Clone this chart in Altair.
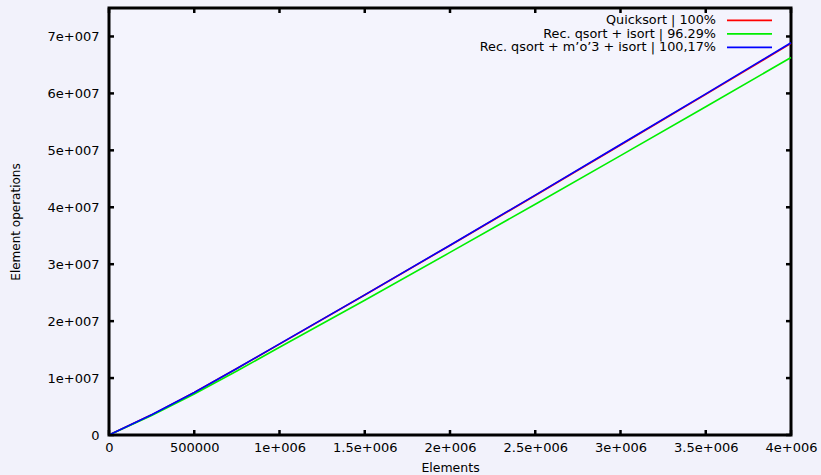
import altair as alt
import pandas as pd

# ---- data ----
x_elements = [0, 250000, 500000, 750000, 1000000, 1500000, 2000000, 2500000, 3000000, 3500000, 4000000]
quicksort = [0, 3.54e6, 7.46e6, 1.167e7, 1.597e7, 2.458e7, 3.329e7, 4.207e7, 5.093e7, 5.982e7, 6.878e7]
rec_isort = [0, 3.42e6, 7.2e6, 1.124e7, 1.54e7, 2.368e7, 3.207e7, 4.053e7, 4.908e7, 5.765e7, 6.63e7]
rec_mo3 = [0, 3.55e6, 7.47e6, 1.169e7, 1.6e7, 2.462e7, 3.334e7, 4.214e7, 5.102e7, 5.992e7, 6.89e7]

series_names = ["Quicksort | 100%", "Rec. qsort + isort | 96.29%", "Rec. qsort + m\u2019o\u20193 + isort | 100,17%"]
series_colors = ["#ff0000", "#00ee00", "#0000ff"]

x_ticks = [0, 500000, 1000000, 1500000, 2000000, 2500000, 3000000, 3500000, 4000000]
x_tick_labels = ["0", "500000", "1e+006", "1.5e+006", "2e+006", "2.5e+006", "3e+006", "3.5e+006", "4e+006"]
y_ticks = [0, 1e7, 2e7, 3e7, 4e7, 5e7, 6e7, 7e7]
y_tick_labels = ["0", "1e+007", "2e+007", "3e+007", "4e+007", "5e+007", "6e+007", "7e+007"]

W, H = 682, 427
FONT = "DejaVu Sans"

xs = alt.Scale(domain=[0, 4000000], nice=False, zero=False)
ys = alt.Scale(domain=[0, 7.5e7], nice=False, zero=False)

def arr(lst):
    return "[" + ",".join("'" + s + "'" for s in lst) + "]"

x_axis = alt.Axis(values=x_ticks, ticks=False, domain=False, grid=False,
                  labelExpr=arr(x_tick_labels) + "[round(datum.value/500000)]",
                  labelFont=FONT, labelFontSize=13, labelColor="black", labelPadding=6,
                  title="Elements", titleFont=FONT, titleFontSize=12.5, titleFontWeight="normal",
                  titleColor="black", titlePadding=7, labelFlush=False)
y_axis = alt.Axis(values=y_ticks, ticks=False, domain=False, grid=False,
                  labelExpr=arr(y_tick_labels) + "[round(datum.value/1e7)]",
                  labelFont=FONT, labelFontSize=13, labelColor="black", labelPadding=10,
                  title="Element operations", titleFont=FONT, titleFontSize=12, titleFontWeight="normal",
                  titleColor="black", titlePadding=25, labelFlush=False)

layers = []
for i, (name, vals) in enumerate(zip(series_names, [quicksort, rec_isort, rec_mo3])):
    df = pd.DataFrame({"x": x_elements, "y": vals})
    layers.append(alt.Chart(df).mark_line(color=series_colors[i], strokeWidth=1.6).encode(
        x=alt.X("x:Q", scale=xs, axis=x_axis),
        y=alt.Y("y:Q", scale=ys, axis=y_axis),
    ))

# inward ticks on all four sides
xt = pd.DataFrame({"x": x_ticks})
yt = pd.DataFrame({"y": y_ticks})
tick_style = dict(color="black", strokeWidth=2.5)
layers.append(alt.Chart(xt).mark_rule(**tick_style).encode(
    x=alt.X("x:Q", scale=xs, axis=x_axis), y=alt.value(H - 5), y2=alt.value(H)))
layers.append(alt.Chart(xt).mark_rule(**tick_style).encode(
    x=alt.X("x:Q", scale=xs, axis=x_axis), y=alt.value(0), y2=alt.value(5)))
layers.append(alt.Chart(yt).mark_rule(**tick_style).encode(
    y=alt.Y("y:Q", scale=ys, axis=y_axis), x=alt.value(0), x2=alt.value(5)))
layers.append(alt.Chart(yt).mark_rule(**tick_style).encode(
    y=alt.Y("y:Q", scale=ys, axis=y_axis), x=alt.value(W - 5), x2=alt.value(W)))

# gnuplot-style key (text left of the sample line)
row_y = [12.4, 25.9, 39.4]
for name, col, ry in zip(series_names, series_colors, row_y):
    layers.append(alt.Chart(pd.DataFrame({"t": [name]})).mark_text(
        align="right", baseline="middle", font=FONT, fontSize=12.8, color="black").encode(
        x=alt.value(607), y=alt.value(ry), text="t:N"))
    layers.append(alt.Chart(pd.DataFrame({"t": [name]})).mark_rule(color=col, strokeWidth=1.6).encode(
        x=alt.value(618), x2=alt.value(663), y=alt.value(ry)))

chart = alt.layer(*layers).properties(
    width=W, height=H,
    autosize=alt.AutoSizeParams(type="none"),
    padding={"left": 109, "top": 8, "right": 30, "bottom": 40},
    background="#f2f2fb",
).configure_view(stroke="black", strokeWidth=3, fill="#f4f4fd")

chart.save("out.html", embed_options={"renderer": "svg", "actions": False})
